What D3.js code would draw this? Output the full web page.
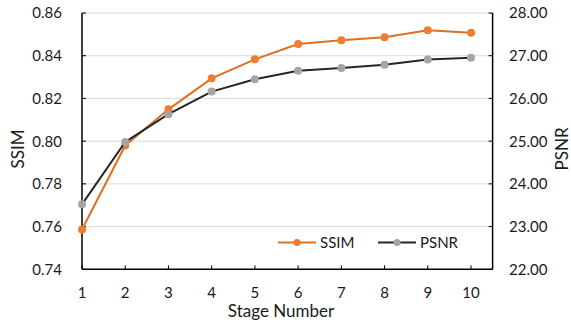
<!DOCTYPE html>
<html><head><meta charset="utf-8">
<script src="https://cdn.jsdelivr.net/npm/d3@7"></script>
<style>body{margin:0;background:#fff}svg{display:block}text{font-family:Lato,"Open Sans",sans-serif;fill:#1a1a1a}</style>
</head><body><svg id="c" width="571" height="320"></svg>
<script>
const stages = [1,2,3,4,5,6,7,8,9,10];
const ssim = [0.7586,0.798,0.8149,0.8294,0.8383,0.8455,0.8472,0.8486,0.8519,0.8508];
const psnr = [23.52,24.98,25.63,26.16,26.45,26.65,26.71,26.79,26.91,26.95];
const ssimTicks = [0.74,0.76,0.78,0.80,0.82,0.84,0.86];
const psnrTicks = [22,23,24,25,26,27,28];

const svg = d3.select("#c");
const L = 82, R = 492.6, T = 13, B = 269.3;
const x = d3.scaleLinear().domain([1,10.5]).range([L,R]);
const yL = d3.scaleLinear().domain([0.74,0.86]).range([B,T]);
const yR = d3.scaleLinear().domain([22,28]).range([B,T]);

svg.append("g").selectAll("line").data(ssimTicks.slice(1)).join("line")
  .attr("x1",L).attr("x2",R).attr("y1",d=>yL(d)).attr("y2",d=>yL(d))
  .attr("stroke","#d9d9d9").attr("stroke-width",1);

const fs = "15px";
const ax = svg.append("g").attr("stroke","#000");
ax.append("line").attr("x1",L).attr("x2",L).attr("y1",T).attr("y2",B).attr("stroke-width",1.5);
ax.append("line").attr("x1",R).attr("x2",R).attr("y1",T).attr("y2",B).attr("stroke-width",1.5);
ax.append("line").attr("x1",L).attr("x2",R).attr("y1",B).attr("y2",B).attr("stroke-width",1.5);
ax.selectAll(".tl").data(ssimTicks).join("line").attr("x1",L).attr("x2",L+4).attr("y1",d=>yL(d)).attr("y2",d=>yL(d));
ax.selectAll(".tr").data(psnrTicks).join("line").attr("x1",R-4).attr("x2",R).attr("y1",d=>yR(d)).attr("y2",d=>yR(d));
ax.selectAll(".tb").data(stages).join("line").attr("x1",d=>x(d)).attr("x2",d=>x(d)).attr("y1",B).attr("y2",B-4);

svg.append("g").selectAll("text").data(ssimTicks).join("text")
  .attr("x",62).attr("y",d=>yL(d)).attr("dy","0.36em").attr("text-anchor","end").attr("font-size",fs)
  .text(d=>d3.format(".2f")(d));
svg.append("g").selectAll("text").data(psnrTicks).join("text")
  .attr("x",509).attr("y",d=>yR(d)).attr("dy","0.36em").attr("text-anchor","start").attr("font-size",fs)
  .text(d=>d3.format(".2f")(d));
svg.append("g").selectAll("text").data(stages).join("text")
  .attr("x",d=>x(d)).attr("y",297.5).attr("text-anchor","middle").attr("font-size",fs)
  .text(d=>d);

svg.append("text").attr("x",281).attr("y",316.5).attr("text-anchor","middle").attr("font-size","17px").text("Stage Number");
svg.append("text").attr("transform","translate(18,149) rotate(-90)").attr("dy","0.36em").attr("text-anchor","middle").attr("font-size","17px").text("SSIM");
svg.append("text").attr("transform","translate(562,149) rotate(-90)").attr("dy","0.36em").attr("text-anchor","middle").attr("font-size","17px").text("PSNR");

const series = [
  {name:"SSIM", vals:ssim, y:yL, line:"#E0701F", mark:"#ED7D31"},
  {name:"PSNR", vals:psnr, y:yR, line:"#262626", mark:"#A5A5A5"}
];
series.forEach(s=>{
  const ln = d3.line().x((d,i)=>x(stages[i])).y(d=>s.y(d));
  svg.append("path").datum(s.vals).attr("d",ln).attr("fill","none").attr("stroke",s.line).attr("stroke-width",2);
  svg.append("g").selectAll("circle").data(s.vals).join("circle")
    .attr("cx",(d,i)=>x(stages[i])).attr("cy",d=>s.y(d)).attr("r",4).attr("fill",s.mark);
});

const leg = [{s:series[0],x0:278},{s:series[1],x0:378}];
leg.forEach(l=>{
  const g = svg.append("g");
  g.append("line").attr("x1",l.x0).attr("x2",l.x0+38).attr("y1",242.5).attr("y2",242.5).attr("stroke",l.s.line).attr("stroke-width",2);
  g.append("circle").attr("cx",l.x0+19).attr("cy",242.5).attr("r",3.5).attr("fill",l.s.mark);
  g.append("text").attr("x",l.x0+42).attr("y",242.5).attr("dy","0.36em").attr("font-size",fs).text(l.s.name);
});
</script></body></html>
